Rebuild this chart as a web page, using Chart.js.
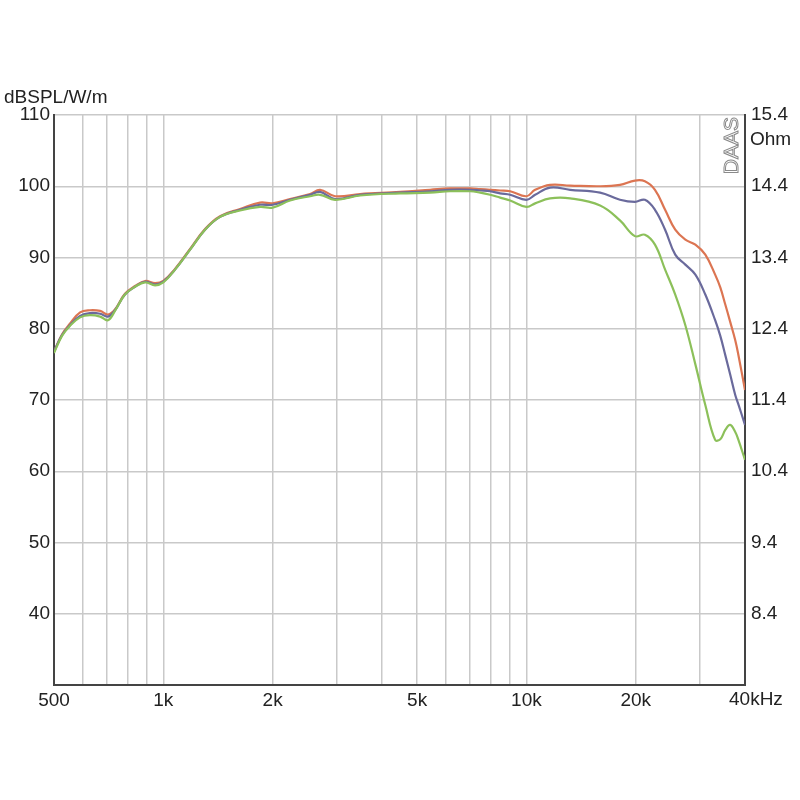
<!DOCTYPE html>
<html>
<head>
<meta charset="utf-8">
<script src="https://cdn.jsdelivr.net/npm/chart.js@4/dist/chart.umd.min.js"></script>
<style>
  html, body { margin: 0; padding: 0; background: #fff; }
</style>
</head>
<body>
<canvas id="splChart" width="800" height="800"></canvas>

<script>
// frequency points (Hz)
const freqHz = [500, 526, 553, 590, 628, 670, 704, 736, 784, 836, 891, 949, 1000, 1077, 1185, 1303, 1433, 1627, 1847, 2000,
  2234, 2537, 2702, 2972, 3483, 4490, 5430, 6165, 7000, 7460, 7945, 8465, 9020, 10000, 10570, 11620, 13200, 15960, 18100,
  19900, 21200, 22600, 24100, 25700, 27400, 29200, 31100, 33100, 34200, 35300, 36400, 37600, 38300, 40000];

// SPL (dB) per curve
const redDb = [76.8, 79.2, 80.7, 82.3, 82.6, 82.5, 82.0, 82.7, 84.9, 86.0, 86.7, 86.4, 86.7, 88.4, 91.2, 94.0, 95.8, 96.8, 97.7, 97.6,
  98.2, 98.9, 99.5, 98.6, 98.9, 99.2, 99.5, 99.7, 99.7, 99.6, 99.5, 99.4, 99.3, 98.6, 99.5, 100.2, 100.1, 100.0, 100.2,
  100.8, 100.7, 99.5, 96.7, 93.9, 92.5, 91.8, 90.4, 87.6, 85.8, 83.4, 81.0, 78.4, 76.5, 71.4];
const blueDb = [76.8, 79.1, 80.5, 81.8, 82.2, 82.1, 81.7, 82.6, 84.8, 85.9, 86.6, 86.2, 86.6, 88.3, 91.1, 93.9, 95.7, 96.7, 97.4, 97.4,
  98.1, 98.8, 99.2, 98.2, 98.8, 99.1, 99.3, 99.5, 99.5, 99.4, 99.3, 99.0, 98.8, 98.1, 98.8, 99.8, 99.5, 99.1, 98.1,
  97.8, 98.1, 96.7, 93.9, 90.4, 89.0, 87.6, 84.8, 81.2, 79.0, 76.3, 73.6, 70.7, 69.5, 66.5];
const greenDb = [76.6, 79.0, 80.4, 81.6, 81.9, 81.7, 81.2, 82.5, 84.8, 85.9, 86.5, 86.1, 86.5, 88.3, 91.1, 93.9, 95.7, 96.6, 97.1, 97.0,
  98.0, 98.6, 98.8, 98.1, 98.7, 99.0, 99.1, 99.3, 99.3, 99.1, 98.8, 98.4, 98.0, 97.1, 97.6, 98.3, 98.3, 97.3, 95.2,
  93.0, 93.2, 91.8, 88.3, 84.8, 80.5, 75.0, 69.3, 64.4, 64.5, 65.8, 66.5, 65.5, 64.5, 61.6];

// axis ticks
const freqGrid = [500, 600, 700, 800, 900, 1000, 2000, 3000, 4000, 5000, 6000, 7000, 8000, 9000, 10000, 20000, 30000, 40000];
const freqLabels = { 500: '500', 1000: '1k', 2000: '2k', 5000: '5k', 10000: '10k', 20000: '20k' };
const ohmTicks = [7.4, 8.4, 9.4, 10.4, 11.4, 12.4, 13.4, 14.4, 15.4];

const toPoints = vals => freqHz.map((f, i) => ({ x: f, y: vals[i] }));

const fontFam = '"Liberation Sans", Arial, sans-serif';
const textColor = '#222';

const extraText = {
  id: 'extraText',
  afterDraw(chart) {
    const ctx = chart.ctx;
    const area = chart.chartArea;
    ctx.save();
    ctx.fillStyle = textColor;
    ctx.font = '19px ' + fontFam;
    ctx.textBaseline = 'alphabetic';
    ctx.textAlign = 'left';
    ctx.fillText('dBSPL/W/m', 4, 103);
    ctx.fillText('Ohm', 750, 145);
    // last frequency label sits right of the axis end
    ctx.textBaseline = 'top';
    ctx.fillText('40kHz', 729, 690);
    // rotated logo
    ctx.translate(area.right - 7, area.top + 2);
    ctx.rotate(-Math.PI / 2);
    ctx.textAlign = 'right';
    ctx.textBaseline = 'alphabetic';
    ctx.font = '21px ' + fontFam;
    ctx.strokeStyle = '#8a8a8a';
    ctx.lineWidth = 1;
    ctx.strokeText('DAAS', 0, 0);
    ctx.restore();
  }
};

new Chart(document.getElementById('splChart'), {
  type: 'line',
  data: {
    datasets: [
      { label: 'green', data: toPoints(greenDb), borderColor: '#8cc05a', borderWidth: 2.2, pointRadius: 0, tension: 0.4, yAxisID: 'y' },
      { label: 'blue', data: toPoints(blueDb), borderColor: '#6a6a9c', borderWidth: 2.2, pointRadius: 0, tension: 0.4, yAxisID: 'y' },
      { label: 'red', data: toPoints(redDb), borderColor: '#dc7552', borderWidth: 2.2, pointRadius: 0, tension: 0.4, yAxisID: 'y' }
    ]
  },
  options: {
    responsive: false,
    animation: false,
    layout: { padding: { top: 115, left: 0, right: 0, bottom: 0 } },
    plugins: { legend: { display: false }, tooltip: { enabled: false } },
    scales: {
      x: {
        type: 'logarithmic',
        min: 500,
        max: 40000,
        afterBuildTicks: scale => { scale.ticks = freqGrid.map(v => ({ value: v })); },
        afterFit: scale => { scale.height = 115; },
        ticks: {
          autoSkip: false,
          maxRotation: 0,
          color: textColor,
          font: { family: fontFam, size: 19 },
          padding: 4,
          callback: v => freqLabels[v] || ''
        },
        grid: { color: '#c9c9c9', lineWidth: 1.5, drawTicks: false },
        border: { color: '#444', width: 2 }
      },
      y: {
        position: 'left',
        min: 30,
        max: 110,
        afterFit: scale => { scale.width = 54; },
        ticks: {
          stepSize: 10,
          color: textColor,
          font: { family: fontFam, size: 19 },
          padding: 4,
          callback: v => v === 30 ? '' : v
        },
        grid: { color: '#c9c9c9', lineWidth: 1.5, drawTicks: false },
        border: { color: '#444', width: 2 }
      },
      y2: {
        position: 'right',
        min: 7.4,
        max: 15.4,
        afterBuildTicks: scale => { scale.ticks = ohmTicks.map(v => ({ value: v })); },
        afterFit: scale => { scale.width = 55; },
        ticks: {
          color: textColor,
          font: { family: fontFam, size: 19 },
          padding: 6,
          callback: v => v === 7.4 ? '' : v.toFixed(1)
        },
        grid: { display: false, drawTicks: false },
        border: { color: '#444', width: 2 }
      }
    }
  },
  plugins: [extraText]
});
</script>
</body>
</html>
